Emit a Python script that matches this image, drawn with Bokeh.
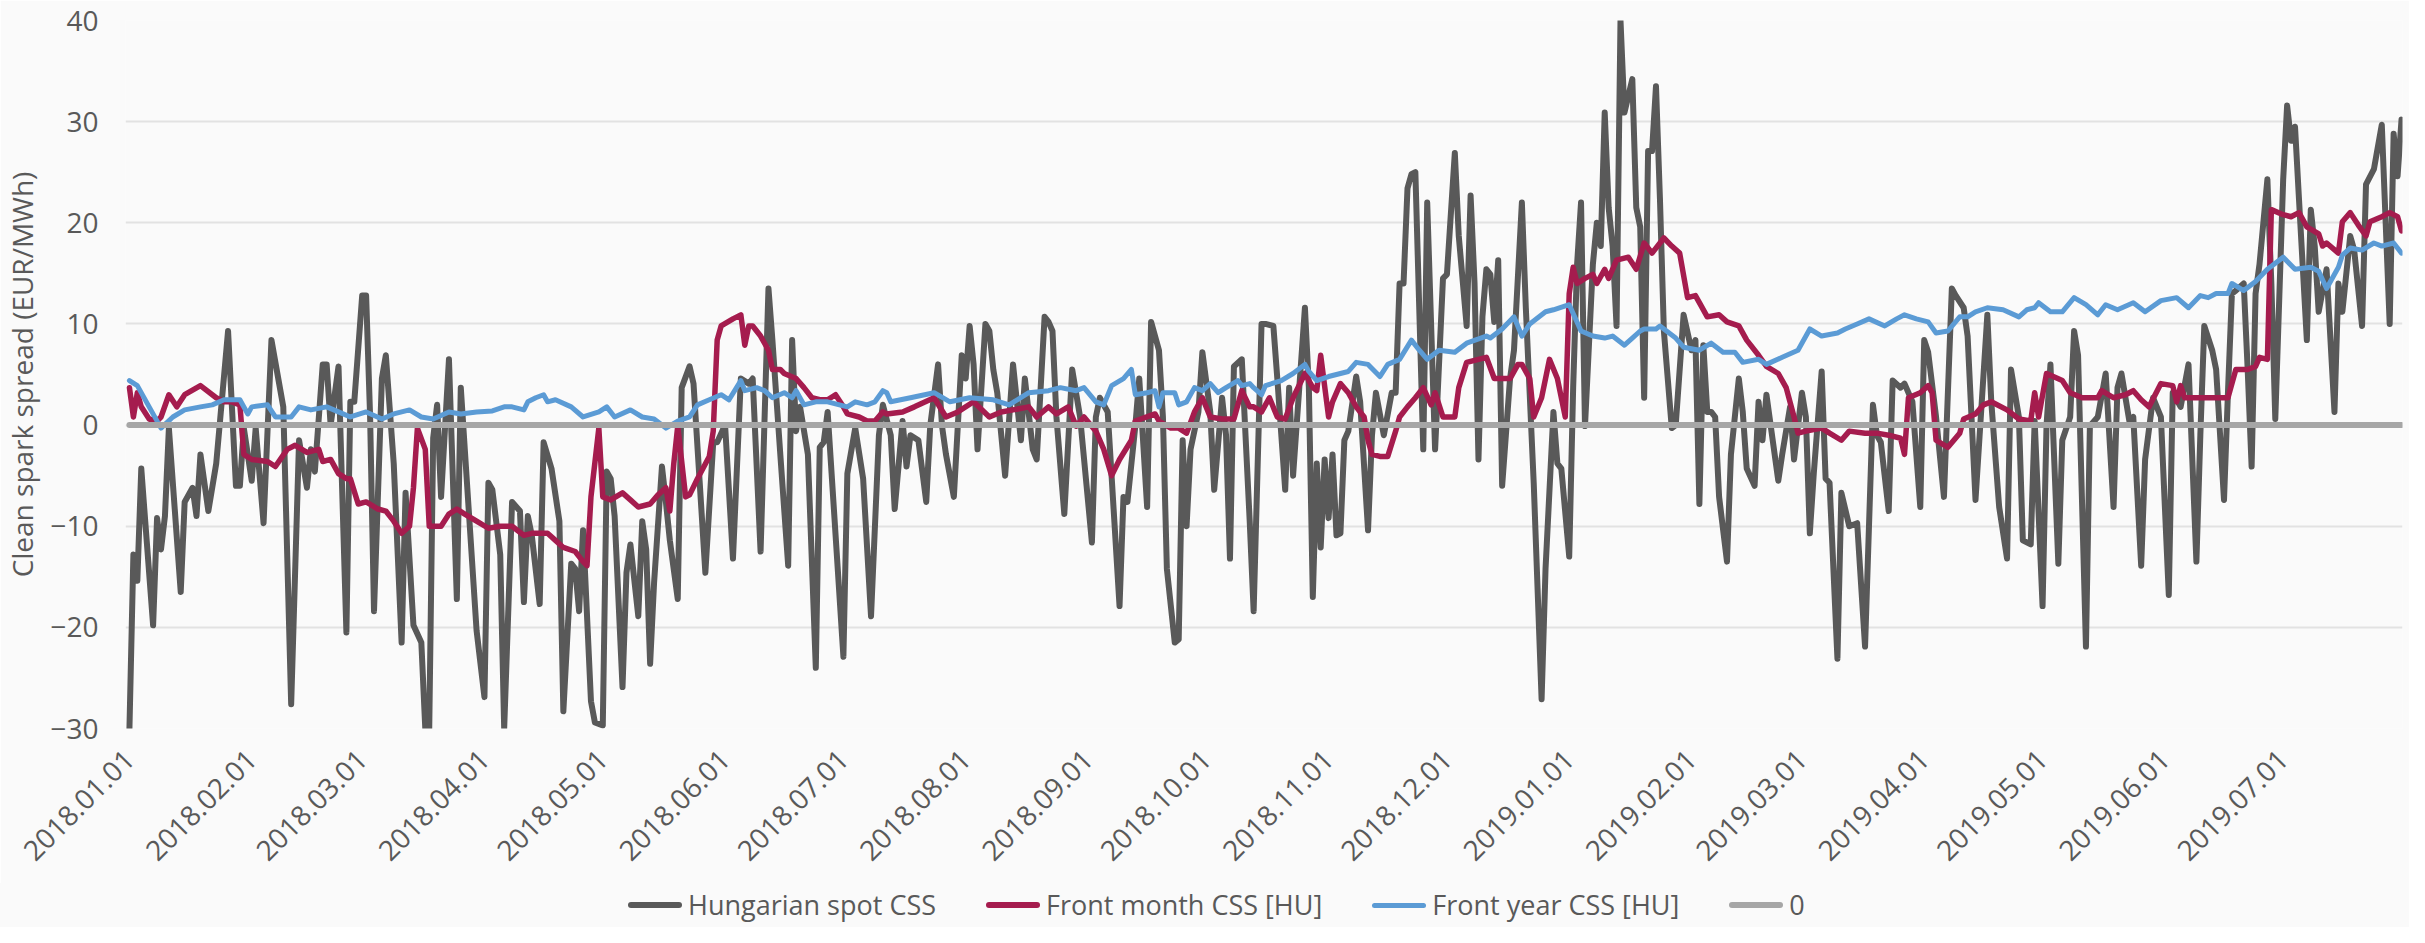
import math
import pandas as pd
from bokeh.plotting import figure
from bokeh.layouts import column
from bokeh.models import Range1d, FixedTicker, DatetimeTickFormatter, ColumnDataSource, Div
from bokeh.embed import file_html
from bokeh.resources import INLINE

START = "2018-01-01"

# ---- data (day offset from 2018-01-01, value in EUR/MWh) ----
spot_day = [0, 1, 2, 3, 4, 6, 7, 8, 9, 10, 13, 14, 16, 17, 18, 20, 22, 25, 27, 28, 29, 31, 32, 34, 36, 39,
            41, 43, 45, 46, 47, 49, 50, 51, 53, 55, 56, 57, 59, 60, 61, 62, 64, 65, 67, 69, 70, 72, 74, 75,
            76, 77, 78, 79, 81, 83, 84, 88, 90, 91, 92, 94, 95, 97, 99, 100, 101, 102, 104, 105, 107, 109,
            110, 112, 113, 114, 115, 117, 118, 120, 121, 122, 123, 125, 126, 127, 129, 130, 131, 132, 133,
            135, 136, 137, 139, 140, 142, 143, 146, 148, 149, 151, 153, 155, 157, 158, 160, 162, 163, 165,
            167, 168, 169, 170, 172, 174, 175, 176, 177, 181, 182, 184, 186, 188, 190, 191, 193, 194, 196,
            197, 198, 200, 202, 203, 205, 206, 207, 209, 211, 212, 213, 214, 215, 217, 218, 219, 220, 222,
            224, 226, 227, 229, 230, 232, 233, 234, 235, 237, 239, 241, 244, 245, 246, 248, 251, 252, 253,
            255, 256, 258, 259, 261, 262, 263, 265, 266, 267, 268, 269, 271, 272, 274, 275, 277, 278, 279,
            280, 282, 284, 285, 287, 288, 290, 291, 293, 294, 295, 298, 299, 300, 301, 302, 303, 304, 305,
            306, 307, 308, 309, 311, 312, 314, 315, 316, 318, 320, 321, 322, 323, 324, 325, 326, 328, 329,
            331, 333, 334, 336, 337, 339, 340, 341, 342, 343, 344, 345, 346, 347, 348, 350, 351, 353, 354,
            356, 358, 359, 361, 362, 363, 365, 366, 367, 368, 369, 371, 372, 373, 374, 375, 376, 377, 378,
            379, 381, 382, 383, 384, 385, 386, 387, 388, 389, 391, 392, 394, 396, 397, 398, 399, 400, 401,
            402, 403, 405, 406, 408, 409, 410, 412, 413, 414, 415, 418, 419, 421, 422, 424, 425, 426, 427,
            429, 430, 431, 433, 434, 436, 438, 440, 442, 443, 444, 446, 447, 449, 450, 452, 454, 455, 456,
            458, 460, 462, 463, 465, 466, 468, 471, 472, 474, 476, 477, 479, 480, 482, 483, 485, 486, 487,
            489, 490, 492, 493, 494, 496, 497, 499, 501, 503, 504, 505, 507, 508, 510, 511, 513, 515, 517,
            518, 520, 522, 524, 525, 526, 528, 529, 531, 532, 533, 534, 536, 537, 538, 539, 540, 542, 543,
            544, 546, 547, 548, 549, 550, 552, 553, 554, 555, 557, 559, 560, 561, 563, 564, 566, 567, 569,
            571, 573, 574, 575, 576]
spot_val = [-30.0, -12.8, -15.4, -4.3, -9.5, -19.8, -9.2, -12.3, -9.0, -0.3, -16.5, -7.6, -6.2, -9.0, -2.9,
            -8.5, -3.8, 9.3, -6.0, -6.0, -0.3, -5.5, -0.3, -9.7, 8.4, 1.8, -27.6, -1.5, -6.2, -2.4, -4.6,
            6.0, 6.0, 0.0, 5.8, -20.5, 2.3, 2.3, 12.8, 12.8, 1.0, -18.4, 4.6, 6.9, -3.8, -21.5, -6.7,
            -19.8, -21.5, -30.0, -30.0, -1.3, 2.0, -7.1, 6.5, -17.2, 3.7, -20.3, -26.9, -5.7, -6.4, -12.8,
            -30.0, -7.6, -8.5, -17.5, -9.0, -10.9, -17.7, -1.7, -4.3, -9.5, -28.3, -13.7, -14.2, -18.4,
            -10.4, -27.3, -29.4, -29.7, -4.6, -5.3, -9.0, -25.9, -14.6, -11.8, -18.9, -9.5, -12.3, -23.6,
            -15.6, -4.1, -7.6, -11.4, -17.2, 3.7, 5.8, 4.1, -14.6, -1.7, -1.7, 0.0, -13.2, 4.6, 4.1, 4.6,
            -12.5, 13.5, 8.4, -2.9, -13.9, 8.4, -0.6, 1.8, -2.9, -24.0, -2.2, -1.7, 1.3, -22.9, -4.8, -0.3,
            -5.3, -18.9, -1.0, 2.0, -1.0, -8.3, 0.4, -4.1, -1.0, -1.5, -7.6, -0.1, 6.0, -0.1, -2.9, -7.1,
            6.9, 4.6, 9.8, 6.0, -2.4, 10.0, 9.3, 5.5, 3.2, -5.0, 6.0, -1.5, 4.6, -2.4, -3.4, 10.7, 10.2,
            9.3, 0.8, -8.8, 5.5, 0.8, -11.6, 0.8, 2.7, 1.3, -17.9, -7.1, -7.6, -0.1, 4.6, -8.1, 10.2, 7.4,
            0.8, -14.2, -21.5, -21.2, -1.5, -10.0, -2.4, 1.3, 7.2, 1.3, -6.4, 2.7, -1.0, -13.2, 5.8, 6.5,
            -9.5, -18.4, 10.0, 10.0, 9.8, 4.6, -6.4, 3.7, -5.0, 11.6, 3.7, -17.0, -3.8, -12.1, -3.4, -9.2,
            -2.9, -10.9, -10.7, -1.5, -0.6, 4.8, 2.3, -10.4, -1.0, 3.2, -1.0, 3.2, 3.2, 14.0, 14.0, 23.4,
            24.8, 25.0, -2.4, 22.0, -2.4, 14.5, 14.9, 26.9, 18.7, 9.8, 22.7, 14.0, -3.4, 10.7, 15.4, 14.9,
            10.2, 16.3, -6.0, 4.6, 7.4, 22.0, 11.6, -5.7, -27.1, -14.2, 1.3, -3.8, -4.3, -13.0, 3.7, 15.9,
            22.0, -0.1, 15.9, 20.0, 17.7, 30.9, 21.5, 17.7, 9.8, 40.0, 30.9, 34.2, 21.5, 19.6, 2.7, 27.1,
            27.1, 33.5, 22.4, 9.3, -0.3, 0.0, 10.9, 7.4, 8.4, -7.8, 7.9, 1.3, 1.3, 0.8, -7.1, -13.5, -2.9,
            4.6, 1.3, -4.3, -6.0, 2.3, -1.5, 3.0, -5.5, -2.9, 1.8, -3.4, 3.2, 0.8, -10.7, -4.8, 5.3, -5.3,
            -5.7, -23.1, -6.7, -10.0, -9.7, -21.9, 2.0, -1.0, -1.7, -8.5, 4.4, 3.7, 4.1, 2.3, -8.1, 8.4,
            7.2, 0.8, -7.1, 13.5, 12.8, 11.6, 8.8, -7.4, 10.9, 2.3, -8.1, -13.2, 5.5, 0.8, -11.4, -11.8,
            0.4, -17.9, -0.1, 6.0, -13.7, -1.5, 0.8, 9.3, 6.9, -21.9, -0.1, 0.8, 5.1, -8.1, 3.7, 5.1, 0.4,
            0.8, -13.9, -3.4, 2.7, 0.8, -16.8, 3.2, 1.8, 6.0, -13.5, -1.0, 9.8, 7.4, 5.5, -7.4, 3.2, 13.0,
            13.3, 14.0, 5.5, -4.1, 13.0, 15.9, 24.3, 14.0, 0.6, 24.3, 31.6, 28.1, 29.5, 22.4, 8.4, 21.3,
            17.7, 11.2, 15.4, 1.3, 14.0, 11.2, 18.7, 17.3, 9.8, 23.8, 25.3, 29.7, 10.0, 28.8, 24.6, 30.2]

fm_day = [0, 1, 2, 3, 5, 7, 8, 10, 12, 14, 18, 22, 24, 26, 28, 29, 31, 35, 37, 40, 42, 45, 48, 49, 51, 53,
          55, 56, 58, 60, 63, 65, 67, 69, 71, 72, 73, 75, 76, 79, 81, 83, 85, 88, 91, 94, 97, 100, 102,
          106, 108, 110, 113, 115, 116, 117, 119, 120, 122, 125, 127, 129, 132, 134, 136, 137, 138, 139,
          141, 142, 144, 147, 148, 149, 150, 153, 155, 156, 157, 158, 160, 162, 163, 165, 166, 169, 171,
          173, 175, 177, 179, 181, 182, 185, 187, 189, 191, 192, 196, 199, 204, 207, 210, 214, 218, 221,
          224, 228, 230, 233, 235, 238, 240, 242, 245, 247, 249, 251, 254, 255, 260, 261, 264, 266, 268,
          270, 272, 274, 277, 280, 282, 284, 285, 287, 289, 291, 293, 295, 298, 300, 301, 302, 304, 305,
          307, 309, 311, 313, 314, 315, 317, 319, 321, 322, 324, 326, 328, 330, 331, 333, 336, 337, 339,
          342, 344, 346, 350, 352, 353, 355, 356, 358, 360, 362, 364, 365, 366, 367, 369, 371, 372, 374,
          375, 377, 380, 382, 384, 386, 389, 391, 393, 395, 397, 398, 400, 403, 405, 408, 410, 413, 415,
          418, 420, 422, 423, 425, 429, 431, 434, 436, 440, 443, 446, 449, 450, 451, 454, 456, 457, 458,
          461, 464, 465, 468, 470, 472, 476, 479, 482, 483, 484, 486, 490, 492, 495, 499, 500, 503, 506,
          508, 510, 512, 515, 518, 519, 520, 521, 524, 528, 532, 534, 537, 539, 540, 542, 543, 546, 548,
          550, 552, 555, 556, 557, 560, 561, 563, 565, 567, 568, 571, 573, 575, 576]
fm_val = [3.7, 0.8, 3.2, 1.8, 0.6, 0.4, 0.8, 3.0, 1.8, 3.0, 3.9, 2.7, 2.3, 2.3, 2.0, -2.9, -3.4, -3.6, -4.1,
          -2.4, -2.0, -2.7, -2.4, -3.6, -3.4, -4.8, -5.3, -5.3, -7.8, -7.6, -8.3, -8.5, -9.5, -10.7, -10.0,
          -6.2, -0.3, -2.4, -10.0, -10.0, -8.8, -8.3, -8.8, -9.5, -10.2, -10.0, -10.0, -10.9, -10.7, -10.7,
          -11.4, -12.1, -12.5, -13.5, -13.9, -7.1, -0.3, -7.1, -7.4, -6.7, -7.4, -8.1, -7.8, -6.9, -6.2,
          -8.5, -3.8, -0.1, -7.1, -6.9, -5.3, -3.1, -0.6, 8.4, 9.8, 10.5, 10.9, 7.9, 9.8, 9.8, 8.8, 7.4,
          5.5, 5.5, 5.1, 4.6, 3.7, 2.7, 2.5, 2.5, 3.0, 1.8, 1.1, 0.8, 0.4, 0.4, 1.3, 1.1, 1.3, 1.8, 2.7,
          0.8, 1.3, 2.3, 0.8, 1.3, 1.5, 1.8, 0.8, 1.8, 1.1, 1.8, -0.1, 0.8, -0.6, -2.4, -5.0, -3.4, -1.5,
          0.4, 1.1, 0.4, -0.3, -0.3, -0.8, 1.3, 2.7, 0.8, 0.6, 0.6, 3.4, 1.8, 1.8, 1.3, 2.7, 0.8, 0.6,
          2.7, 5.1, 3.7, 3.4, 6.9, 0.8, 2.3, 4.1, 3.2, 1.8, 0.8, -1.5, -2.9, -3.1, -3.1, -0.6, 0.8, 1.8,
          2.7, 3.7, 2.0, 3.2, 0.8, 0.8, 3.7, 6.2, 6.5, 6.7, 4.6, 4.6, 6.0, 6.0, 4.6, 0.8, 2.7, 6.5, 4.6,
          0.8, 13.0, 15.6, 14.0, 14.5, 14.9, 14.0, 15.4, 14.5, 16.3, 16.6, 15.4, 18.0, 17.0, 18.5, 17.7,
          17.0, 12.6, 12.8, 12.1, 10.7, 10.9, 10.2, 9.8, 8.4, 6.9, 5.8, 5.1, 3.7, 0.8, -0.8, -0.6, -0.3,
          -0.8, -1.5, -0.6, -0.8, -0.8, -1.0, -1.3, -2.9, 2.7, 3.2, 3.9, 3.2, -1.5, -2.2, -0.8, 0.6, 1.1,
          2.0, 2.3, 1.5, 0.6, 0.4, 3.2, 0.8, 5.1, 4.4, 3.2, 2.7, 2.7, 3.4, 2.7, 3.0, 3.4, 2.5, 1.8, 4.1,
          3.9, 2.3, 3.9, 2.7, 2.7, 2.7, 2.7, 5.5, 5.5, 5.8, 6.7, 6.5, 21.3, 20.8, 20.6, 21.0, 19.6, 18.9,
          17.7, 18.0, 17.0, 20.1, 21.0, 19.8, 18.7, 20.1, 20.6, 21.0, 20.6, 19.2]

fy_day = [0, 2, 5, 8, 11, 14, 18, 21, 24, 28, 30, 31, 35, 37, 41, 43, 46, 50, 53, 56, 60, 64, 67, 71, 74,
          77, 81, 84, 88, 92, 95, 97, 100, 101, 103, 105, 106, 108, 112, 115, 119, 121, 123, 127, 130, 133,
          136, 139, 142, 144, 147, 150, 152, 155, 156, 159, 161, 163, 166, 168, 169, 171, 174, 177, 182,
          184, 187, 189, 191, 192, 193, 198, 204, 208, 213, 219, 223, 228, 233, 236, 240, 242, 245, 247,
          249, 252, 254, 255, 258, 260, 261, 262, 265, 266, 268, 270, 272, 274, 276, 278, 281, 282, 284,
          285, 287, 288, 292, 295, 298, 299, 301, 304, 309, 311, 314, 317, 319, 322, 325, 327, 329, 332,
          336, 339, 344, 345, 348, 351, 353, 355, 359, 361, 365, 368, 371, 374, 376, 379, 381, 383, 384,
          387, 388, 392, 394, 398, 401, 404, 407, 409, 413, 415, 419, 423, 426, 429, 433, 435, 438, 441,
          445, 448, 450, 453, 456, 458, 461, 464, 466, 468, 471, 475, 479, 481, 483, 484, 487, 490, 493,
          496, 499, 501, 504, 508, 511, 515, 519, 522, 525, 527, 529, 532, 533, 536, 539, 542, 546, 549,
          553, 555, 557, 560, 561, 563, 566, 569, 571, 574, 576]
fy_val = [4.4, 3.9, 1.8, -0.3, 0.8, 1.5, 1.8, 2.0, 2.5, 2.5, 1.1, 1.8, 2.0, 0.8, 0.8, 1.8, 1.5, 1.8, 1.3,
          0.8, 1.3, 0.6, 1.1, 1.5, 0.8, 0.6, 1.3, 1.1, 1.3, 1.4, 1.8, 1.8, 1.5, 2.3, 2.7, 3.0, 2.3, 2.5,
          1.8, 0.8, 1.3, 1.8, 0.8, 1.5, 0.8, 0.6, -0.3, 0.4, 0.8, 2.0, 2.5, 3.0, 2.5, 4.4, 3.4, 3.7, 3.4,
          2.7, 3.2, 2.7, 3.4, 2.0, 2.3, 2.3, 1.8, 2.3, 2.0, 2.3, 3.4, 3.2, 2.3, 2.7, 3.2, 2.3, 2.7, 2.5,
          2.0, 3.2, 3.4, 3.7, 3.4, 3.7, 2.3, 2.0, 3.9, 4.6, 5.5, 3.0, 3.2, 3.4, 1.8, 3.2, 3.2, 2.0, 2.3,
          3.7, 3.4, 4.1, 3.2, 3.7, 4.4, 3.9, 4.1, 3.7, 3.0, 3.9, 4.4, 5.1, 6.0, 5.3, 4.4, 4.8, 5.3, 6.2,
          6.0, 4.8, 6.0, 6.5, 8.4, 7.4, 6.5, 7.4, 7.2, 8.1, 8.8, 8.6, 9.5, 10.7, 8.8, 10.0, 11.2, 11.4,
          11.9, 9.3, 8.8, 8.6, 8.8, 7.9, 8.6, 9.3, 9.5, 9.5, 9.8, 8.6, 7.7, 7.4, 8.1, 7.2, 7.2, 6.2, 6.5,
          6.0, 6.7, 7.4, 9.5, 8.8, 9.1, 9.5, 10.0, 10.5, 9.8, 10.5, 10.9, 10.5, 10.2, 9.1, 9.3, 10.7,
          10.7, 11.2, 11.6, 11.4, 10.7, 11.4, 11.6, 12.1, 11.2, 11.2, 12.6, 11.9, 10.9, 11.9, 11.4, 12.1,
          11.2, 12.3, 12.6, 11.6, 12.8, 12.6, 13.0, 13.0, 14.0, 13.3, 14.2, 15.4, 16.6, 15.4, 15.6, 15.2,
          13.5, 15.6, 16.8, 17.5, 17.3, 18.0, 17.7, 18.0, 17.0]

zero_day = [0, 576]
zero_val = [0.0, 0.0]

tick_labels = ["2018.01.01", "2018.02.01", "2018.03.01", "2018.04.01", "2018.05.01", "2018.06.01",
               "2018.07.01", "2018.08.01", "2018.09.01", "2018.10.01", "2018.11.01", "2018.12.01",
               "2019.01.01", "2019.02.01", "2019.03.01", "2019.04.01", "2019.05.01", "2019.06.01",
               "2019.07.01"]
y_ticks = [-30, -20, -10, 0, 10, 20, 30, 40]

series_names = ["Hungarian spot CSS", "Front month CSS [HU]", "Front year CSS [HU]", "0"]
series_colors = ["#595959", "#A51C4E", "#5B9BD5", "#A6A6A6"]
series_widths = [6, 5.5, 5, 6]

FONT = "Open Sans"
TXT = "#595959"
BG = "#FAFAFA"
W = 2409
H_MAIN = 883
H_LEG = 44


def to_dates(days):
    return (pd.Timestamp(START) + pd.to_timedelta(days, unit="D")).values


all_days = [spot_day, fm_day, fy_day, zero_day]
all_vals = [spot_val, fm_val, fy_val, zero_val]

p = figure(width=W, height=H_MAIN, x_axis_type="datetime", output_backend="svg",
           toolbar_location=None,
           x_range=Range1d(pd.Timestamp("2017-12-31"), pd.Timestamp("2019-07-31 06:00")),
           y_range=Range1d(-30, 40),
           min_border_left=113, min_border_right=7, min_border_top=20, min_border_bottom=155)
p.background_fill_color = BG
p.border_fill_color = BG
p.outline_line_color = None

p.xgrid.grid_line_color = None
p.ygrid.grid_line_color = "#E2E2E2"
p.ygrid.grid_line_width = 2

for days, vals, col, lw in zip(all_days, all_vals, series_colors, series_widths):
    src = ColumnDataSource(dict(x=to_dates(days), y=vals))
    p.line("x", "y", source=src, line_color=col, line_width=lw,
           line_join="round", line_cap="round")

# y axis
p.yaxis.ticker = FixedTicker(ticks=y_ticks)
p.yaxis.axis_line_color = None
p.yaxis.major_tick_line_color = None
p.yaxis.minor_tick_line_color = None
p.yaxis.major_tick_out = 0
p.yaxis.major_tick_in = 0
p.yaxis.minor_tick_out = 0
p.yaxis.major_label_standoff = 27
p.yaxis.major_label_text_font = FONT
p.yaxis.major_label_text_font_size = "28px"
p.yaxis.major_label_text_color = TXT
p.yaxis.axis_label = "Clean spark spread (EUR/MWh)"
p.yaxis.axis_label_text_font = FONT
p.yaxis.axis_label_text_font_size = "28px"
p.yaxis.axis_label_text_font_style = "normal"
p.yaxis.axis_label_text_color = TXT
p.yaxis.axis_label_standoff = 6

# x axis
tick_ms = [pd.Timestamp(t.replace(".", "-")).value / 1e6 for t in tick_labels]
p.xaxis.ticker = FixedTicker(ticks=tick_ms)
fmt = "%Y.%m.%d"
p.xaxis.formatter = DatetimeTickFormatter(microseconds=fmt, milliseconds=fmt, seconds=fmt, minsec=fmt,
                                          minutes=fmt, hourmin=fmt, hours=fmt, days=fmt, months=fmt,
                                          years=fmt)
p.xaxis.axis_line_color = None
p.xaxis.major_tick_line_color = None
p.xaxis.minor_tick_line_color = None
p.xaxis.major_tick_out = 0
p.xaxis.major_tick_in = 0
p.xaxis.minor_tick_out = 0
p.xaxis.major_label_orientation = math.pi / 4
p.xaxis.major_label_standoff = 26
p.xaxis.major_label_text_font = FONT
p.xaxis.major_label_text_font_size = "28px"
p.xaxis.major_label_text_color = TXT

# ---- legend row below the chart, built from the series names / colours ----
item_html = "".join(
    '<span style="display:inline-flex;align-items:center;margin-right:50px;">'
    f'<span style="display:inline-block;width:54px;height:{lw}px;background:{col};'
    f'border-radius:3px;margin-right:6px;"></span>{name}</span>'
    for name, col, lw in zip(series_names, series_colors, series_widths))
legend_div = Div(
    text=(f'<div style="font-family:\'{FONT}\',sans-serif;font-size:27px;color:{TXT};'
          f'line-height:40px;height:40px;padding:4px 0 0 628px;white-space:nowrap;'
          f'display:flex;align-items:center;">{item_html}</div>'),
    width=W, height=H_LEG, margin=0, styles={"background-color": BG})

layout = column(p, legend_div, spacing=0)
open("out.html", "w").write(file_html(layout, INLINE))
